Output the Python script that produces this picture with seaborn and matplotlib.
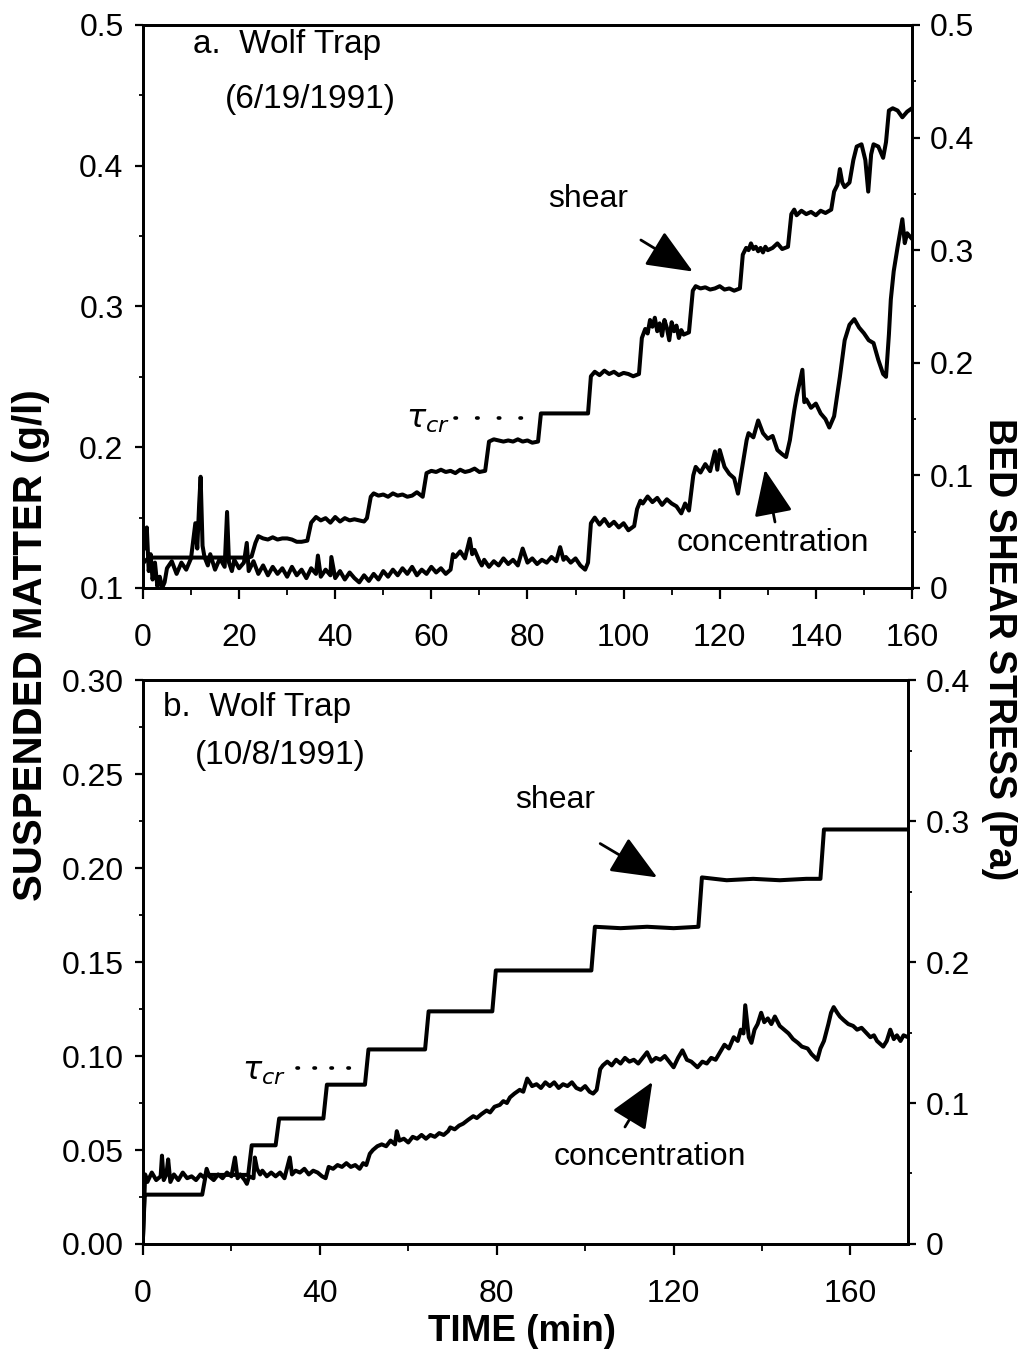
import matplotlib
matplotlib.use("Agg")
import matplotlib.pyplot as plt
from matplotlib.ticker import MultipleLocator
import seaborn as sns
import pandas as pd

# ---------------- data: (a) Wolf Trap 6/19/1991 ----------------
shear_a_t = [0, 1, 2, 4, 6, 8, 10, 12, 14, 16, 18, 20, 22, 22.6, 23.4, 24, 25, 26, 27, 28, 29, 30, 31, 32, 33, 34.2,
             35, 36, 37, 38, 39, 40, 41, 42, 43, 44, 45, 46, 46.6, 47.4, 48, 49, 50, 51, 52, 53, 54, 55, 56, 57, 58.2,
             59, 60, 61, 62, 63, 64, 65, 66, 67, 68, 69, 70, 71.2, 72, 73, 74, 75, 76, 77, 78, 79, 80, 81, 82.2,
             82.8, 85, 88, 92.6, 93.2, 94, 95, 96, 97, 98, 99, 100, 101, 102, 103.2, 103.8, 104.5, 105, 105.5,
             106, 106.5, 107, 107.5, 108, 108.5, 109, 109.5, 110, 110.5, 111, 111.5, 112, 112.5, 113.6, 114.4,
             115, 116, 117, 118, 119, 120, 121, 122, 123, 124.2, 124.8, 125.5, 126, 126.5, 127, 127.5, 128,
             128.5, 129, 129.5, 130, 131, 132, 133, 134.2, 134.9, 135.5, 136, 137, 138, 139, 140, 141, 142,
             143.2, 143.8, 144.5, 145, 145.5, 146, 147, 147.8, 148.5, 149.5, 150.3, 150.9, 151.5, 152, 153, 154,
             154.6, 155.2, 156, 157, 158, 159, 160]
shear_a = [0.022, 0.026, 0.027, 0.027, 0.027, 0.027, 0.027, 0.027, 0.027, 0.027, 0.027, 0.027, 0.027, 0.028,
           0.040, 0.046, 0.044, 0.043, 0.045, 0.043, 0.044, 0.044, 0.043, 0.041, 0.041, 0.042,
           0.058, 0.063, 0.060, 0.062, 0.058, 0.063, 0.059, 0.062, 0.060, 0.061, 0.060, 0.059, 0.062,
           0.081, 0.084, 0.082, 0.083, 0.081, 0.084, 0.082, 0.083, 0.081, 0.082, 0.085, 0.081,
           0.102, 0.104, 0.103, 0.105, 0.103, 0.104, 0.102, 0.105, 0.103, 0.104, 0.106, 0.103, 0.104,
           0.130, 0.132, 0.131, 0.130, 0.131, 0.130, 0.132, 0.130, 0.131, 0.129, 0.130,
           0.155, 0.155, 0.155, 0.155, 0.188, 0.192, 0.189, 0.193, 0.190, 0.192, 0.189, 0.191, 0.190, 0.188,
           0.190, 0.222, 0.230, 0.226, 0.238, 0.232, 0.240, 0.228, 0.235, 0.224, 0.238, 0.231, 0.220, 0.236,
           0.228, 0.233, 0.222, 0.229, 0.225, 0.227, 0.264, 0.268, 0.266, 0.267, 0.265, 0.266, 0.268, 0.265,
           0.266, 0.264, 0.266, 0.296, 0.302, 0.300, 0.306, 0.301, 0.303, 0.299, 0.302, 0.298, 0.303, 0.300,
           0.302, 0.306, 0.301, 0.303, 0.332, 0.336, 0.331, 0.335, 0.332, 0.334, 0.331, 0.335, 0.333, 0.336,
           0.352, 0.358, 0.372, 0.360, 0.356, 0.360, 0.380, 0.392, 0.394, 0.380, 0.352, 0.385, 0.394, 0.392,
           0.382, 0.396, 0.424, 0.426, 0.424, 0.418, 0.423, 0.426]

conc_a_t = [0, 0.4, 0.8, 1.2, 1.6, 2, 2.5, 3, 3.5, 4, 4.5, 5, 6, 7, 8, 9, 10, 10.9, 11.3, 11.7, 12, 12.4, 12.8,
            13.5, 14, 15, 16, 17, 17.5, 17.9, 18.5, 19, 20, 21, 21.6, 22, 23, 24, 25, 26, 27, 28, 29, 30, 31, 32,
            33, 34, 35, 36, 36.4, 37, 38, 39, 39.2, 40, 41, 42, 43, 44, 45, 46, 47, 48, 49, 50, 51, 52, 53, 54,
            55, 56, 57, 58, 59, 60, 61, 62, 63, 64, 64.5, 65, 66, 67, 68, 68.5, 69, 70, 70.5, 71, 72, 73, 74, 75,
            76, 77, 78, 79, 80, 81, 82, 83, 84, 85, 86, 86.8, 87.5, 88, 89, 90, 91, 92, 92.6, 93.2, 94, 95, 96,
            97, 98, 99, 100, 101, 102.2, 102.8, 103.5, 104, 105, 106, 107, 108, 109, 110, 111, 112, 112.8, 113.6,
            114.5, 115, 116, 117, 118, 119, 119.5, 120, 121, 122, 123, 123.8, 124.5, 125.6, 126, 127, 128, 129,
            130, 131, 132, 133, 133.8, 134.6, 135.5, 136, 137.2, 137.6, 138, 139, 140, 141, 142, 142.8, 143.8,
            145, 146, 147, 148, 149, 150, 151, 152, 153, 154, 154.6, 155.2, 155.6, 156.2, 157, 157.5, 158,
            158.5, 159, 160]
conc_a = [0.142, 0.128, 0.143, 0.112, 0.124, 0.106, 0.118, 0.101, 0.108, 0.100, 0.104, 0.114, 0.119, 0.110,
          0.118, 0.113, 0.121, 0.146, 0.128, 0.160, 0.179, 0.130, 0.122, 0.116, 0.124, 0.113, 0.121, 0.115,
          0.154, 0.118, 0.112, 0.120, 0.114, 0.118, 0.132, 0.112, 0.119, 0.110, 0.116, 0.109, 0.115, 0.110,
          0.114, 0.108, 0.115, 0.109, 0.113, 0.107, 0.114, 0.110, 0.123, 0.108, 0.113, 0.109, 0.122, 0.107,
          0.112, 0.106, 0.111, 0.107, 0.104, 0.109, 0.105, 0.110, 0.106, 0.112, 0.108, 0.113, 0.109, 0.114,
          0.110, 0.115, 0.109, 0.113, 0.110, 0.115, 0.111, 0.114, 0.110, 0.113, 0.124, 0.122, 0.126, 0.121,
          0.135, 0.124, 0.127, 0.119, 0.116, 0.120, 0.115, 0.119, 0.116, 0.121, 0.117, 0.120, 0.116, 0.128,
          0.118, 0.121, 0.117, 0.120, 0.118, 0.122, 0.119, 0.129, 0.120, 0.122, 0.118, 0.121, 0.116, 0.113,
          0.118, 0.146, 0.150, 0.145, 0.149, 0.144, 0.147, 0.143, 0.146, 0.141, 0.144, 0.156, 0.162, 0.160,
          0.165, 0.161, 0.164, 0.159, 0.163, 0.160, 0.158, 0.153, 0.160, 0.155, 0.180, 0.186, 0.182, 0.188,
          0.183, 0.197, 0.184, 0.198, 0.186, 0.181, 0.178, 0.167, 0.182, 0.205, 0.210, 0.207, 0.219, 0.210,
          0.206, 0.208, 0.198, 0.195, 0.193, 0.205, 0.226, 0.236, 0.255, 0.232, 0.234, 0.228, 0.231, 0.224,
          0.220, 0.214, 0.222, 0.250, 0.276, 0.287, 0.291, 0.285, 0.281, 0.276, 0.274, 0.262, 0.252, 0.250,
          0.280, 0.305, 0.325, 0.342, 0.352, 0.362, 0.345, 0.352, 0.348]

# ---------------- data: (b) Wolf Trap 10/8/1991 ----------------
shear_b_t = [0, 0.4, 1, 6, 13.4, 14.2, 19, 23.8, 24.6, 27, 30.0, 30.8, 36, 40.8, 41.6, 46, 50.2, 51.0, 57, 63.8,
             64.6, 72, 79.0, 79.8, 88, 95, 101.4, 102.2, 108, 114, 120, 125.6, 126.4, 132, 138, 144, 150, 153.2,
             154.0, 163, 173]
shear_b = [0.004, 0.035, 0.035, 0.035, 0.035, 0.049, 0.049, 0.049, 0.070, 0.070, 0.070, 0.089, 0.089, 0.089,
           0.113, 0.113, 0.113, 0.138, 0.138, 0.138, 0.165, 0.165, 0.165, 0.194, 0.194, 0.194, 0.194, 0.225,
           0.224, 0.225, 0.224, 0.225, 0.260, 0.258, 0.259, 0.258, 0.259, 0.259, 0.294, 0.294, 0.294]

conc_b_t = [0, 0.5, 1, 2, 3, 4, 4.3, 4.7, 5.3, 5.7, 6.2, 7, 8, 9, 10, 11, 12, 13, 14, 14.4, 15, 16, 17, 18, 19,
            20, 20.8, 21.4, 22, 23, 23.5, 24, 25, 25.3, 25.8, 26.5, 27, 28, 29, 30, 31, 32, 33.2, 33.7, 34.5,
            35.5, 36.5, 37.5, 38.5, 39.5, 40.5, 41.3, 42, 43, 44, 45, 46, 47, 48, 49, 49.8, 50.5, 51.3, 52, 53,
            54, 55, 56, 57, 57.4, 58, 59, 60, 61, 62, 63, 64, 65, 66, 67, 68, 69, 69.5, 70.5, 71.5, 72.4, 73.5,
            74.7, 75.5, 76.5, 77.7, 78.5, 79.5, 80.7, 81.5, 82.3, 83, 84, 85.2, 86, 86.9, 88, 89, 90, 91, 92, 93,
            94, 95, 96, 97, 98, 99, 100, 101, 101.8, 102.6, 103.4, 104, 105, 106, 107, 108, 109, 110, 111, 112,
            113, 114, 115, 116, 117, 118, 119, 120, 121, 122, 123, 124, 125.4, 126.5, 127.5, 128.5, 129.5,
            130.5, 131.5, 132.5, 133.6, 134.5, 135.2, 135.8, 136.2, 137, 137.6, 138.3, 139, 139.8, 140.5, 141.3,
            142.1, 142.9, 144, 145, 146, 147, 148.1, 149, 150.3, 151.2, 152.5, 153.2, 154, 155, 155.6, 156.2,
            157, 157.6, 158.5, 159.5, 160.6, 161.5, 162.5, 163.7, 164.5, 165.3, 166, 167.4, 168.2, 169, 169.8,
            170.5, 171.3, 172, 173]
conc_b = [0.003, 0.037, 0.033, 0.038, 0.034, 0.036, 0.047, 0.034, 0.037, 0.045, 0.033, 0.037, 0.034, 0.038,
          0.035, 0.036, 0.034, 0.037, 0.035, 0.040, 0.036, 0.034, 0.037, 0.035, 0.038, 0.036, 0.046, 0.035,
          0.037, 0.034, 0.032, 0.036, 0.035, 0.046, 0.040, 0.037, 0.039, 0.036, 0.038, 0.036, 0.038, 0.035,
          0.046, 0.037, 0.039, 0.038, 0.040, 0.037, 0.039, 0.038, 0.036, 0.035, 0.041, 0.040, 0.042, 0.041,
          0.043, 0.041, 0.042, 0.040, 0.043, 0.042, 0.048, 0.050, 0.052, 0.053, 0.052, 0.055, 0.053, 0.060,
          0.055, 0.056, 0.054, 0.057, 0.056, 0.058, 0.056, 0.058, 0.057, 0.059, 0.058, 0.060, 0.062, 0.061,
          0.063, 0.064, 0.066, 0.068, 0.067, 0.069, 0.071, 0.070, 0.073, 0.074, 0.076, 0.075, 0.078, 0.080,
          0.082, 0.081, 0.088, 0.084, 0.085, 0.083, 0.086, 0.084, 0.086, 0.083, 0.085, 0.084, 0.086, 0.083,
          0.082, 0.084, 0.081, 0.080, 0.082, 0.093, 0.095, 0.097, 0.095, 0.098, 0.096, 0.099, 0.097, 0.098,
          0.096, 0.099, 0.102, 0.097, 0.099, 0.098, 0.100, 0.097, 0.094, 0.099, 0.103, 0.098, 0.097, 0.094,
          0.097, 0.096, 0.099, 0.098, 0.102, 0.106, 0.104, 0.110, 0.108, 0.114, 0.112, 0.127, 0.110, 0.107,
          0.114, 0.117, 0.123, 0.118, 0.120, 0.117, 0.121, 0.116, 0.114, 0.112, 0.109, 0.107, 0.105, 0.104,
          0.101, 0.098, 0.104, 0.108, 0.117, 0.123, 0.126, 0.123, 0.121, 0.119, 0.117, 0.116, 0.114, 0.115,
          0.112, 0.110, 0.111, 0.108, 0.105, 0.108, 0.114, 0.109, 0.111, 0.108, 0.111, 0.110]

# ---------------- style ----------------
sns.set_theme(style="ticks")
plt.rcParams["font.family"] = ["Liberation Sans", "DejaVu Sans"]
plt.rcParams["mathtext.fontset"] = "dejavusans"
for key in ("text.color", "axes.labelcolor", "xtick.color", "ytick.color", "axes.edgecolor"):
    plt.rcParams[key] = "black"

FS = 23
LW = 2.9

fig = plt.figure(figsize=(10.24, 13.56), dpi=100)
fig.patch.set_facecolor("white")

ax_a = fig.add_axes([0.1396, 0.5664, 0.751, 0.4152])
ax_b = fig.add_axes([0.1396, 0.0826, 0.7471, 0.4159])
ax_a2 = ax_a.twinx()
ax_b2 = ax_b.twinx()


def draw(ax, t, y):
    df = pd.DataFrame({"t": t, "y": y})
    sns.lineplot(data=df, x="t", y="y", ax=ax, color="black", lw=LW, sort=False,
                 estimator=None, solid_joinstyle="round", solid_capstyle="round")
    ax.set_xlabel("")
    ax.set_ylabel("")


draw(ax_a, conc_a_t, conc_a)
draw(ax_a2, shear_a_t, shear_a)
draw(ax_b, conc_b_t, conc_b)
draw(ax_b2, shear_b_t, shear_b)

# ---------------- axes ----------------
ax_a.set_xlim(0, 160)
ax_a.set_ylim(0.1, 0.5)
ax_a2.set_ylim(0, 0.5)
ax_b.set_xlim(0, 173)
ax_b.set_ylim(0, 0.30)
ax_b2.set_ylim(0, 0.4)

ax_a.set_xticks([0, 20, 40, 60, 80, 100, 120, 140, 160])
ax_a.set_xticklabels(["0", "20", "40", "60", "80", "100", "120", "140", "160"])
ax_a.xaxis.set_minor_locator(MultipleLocator(10))
ax_a.set_yticks([0.1, 0.2, 0.3, 0.4, 0.5])
ax_a.set_yticklabels(["0.1", "0.2", "0.3", "0.4", "0.5"])
ax_a.yaxis.set_minor_locator(MultipleLocator(0.05))
ax_a2.set_yticks([0, 0.1, 0.2, 0.3, 0.4, 0.5])
ax_a2.set_yticklabels(["0", "0.1", "0.2", "0.3", "0.4", "0.5"])
ax_a2.yaxis.set_minor_locator(MultipleLocator(0.05))

ax_b.set_xticks([0, 40, 80, 120, 160])
ax_b.set_xticklabels(["0", "40", "80", "120", "160"])
ax_b.xaxis.set_minor_locator(MultipleLocator(20))
ax_b.set_yticks([0, 0.05, 0.10, 0.15, 0.20, 0.25, 0.30])
ax_b.set_yticklabels(["0.00", "0.05", "0.10", "0.15", "0.20", "0.25", "0.30"])
ax_b.yaxis.set_minor_locator(MultipleLocator(0.025))
ax_b2.set_yticks([0, 0.1, 0.2, 0.3, 0.4])
ax_b2.set_yticklabels(["0", "0.1", "0.2", "0.3", "0.4"])
ax_b2.yaxis.set_minor_locator(MultipleLocator(0.05))

for ax in (ax_a, ax_b, ax_a2, ax_b2):
    for s in ax.spines.values():
        s.set_visible(True)
        s.set_linewidth(2.0)
        s.set_color("black")
    ax.tick_params(which="major", direction="out", length=6, width=1.6, colors="black",
                   labelsize=FS, labelcolor="black")
    ax.tick_params(which="minor", direction="out", length=3, width=1.3, colors="black")
    ax.grid(False)

for ax in (ax_a, ax_b):
    ax.tick_params(axis="y", which="both", left=True, right=False, pad=8)
    ax.tick_params(axis="x", which="major", length=8, pad=17)
    ax.tick_params(axis="x", which="minor", length=5)
    ax.tick_params(axis="x", which="both", top=False, bottom=True)
for ax in (ax_a2, ax_b2):
    ax.tick_params(axis="y", which="both", right=True, left=False, pad=7)

# ---------------- annotations ----------------
arrow = dict(arrowstyle="-|>,head_length=1.3,head_width=0.55", color="black", lw=2.0,
             mutation_scale=22, shrinkA=0, shrinkB=0)

ax_a.text(0.065, 0.966, "a.  Wolf Trap", transform=ax_a.transAxes, fontsize=FS + 1,
          ha="left", va="center")
ax_a.text(0.107, 0.867, "(6/19/1991)", transform=ax_a.transAxes, fontsize=FS + 1,
          ha="left", va="center")
ax_a2.text(92.7, 0.345, "shear", fontsize=FS, ha="center", va="center")
ax_a2.annotate("", xy=(114.4, 0.281), xytext=(103.6, 0.309), arrowprops=arrow)
ax_a2.text(131.1, 0.040, "concentration", fontsize=FS, ha="center", va="center")
ax_a2.annotate("", xy=(129.4, 0.105), xytext=(131.5, 0.0586), arrowprops=arrow)
ax_a2.text(59.3, 0.149, r"$\tau_{cr}$", fontsize=FS, ha="center", va="center")
ax_a2.plot([65.0, 79.0], [0.151, 0.151], color="black", lw=2.6, ls=(0, (0.4, 5.6)),
           dash_capstyle="round")

ax_b.text(0.026, 0.952, "b.  Wolf Trap", transform=ax_b.transAxes, fontsize=FS + 1,
          ha="left", va="center")
ax_b.text(0.068, 0.867, "(10/8/1991)", transform=ax_b.transAxes, fontsize=FS + 1,
          ha="left", va="center")
ax_b2.text(93.2, 0.315, "shear", fontsize=FS, ha="center", va="center")
ax_b2.annotate("", xy=(116.3, 0.260), xytext=(103.4, 0.284), arrowprops=arrow)
ax_b2.text(114.7, 0.0617, "concentration", fontsize=FS, ha="center", va="center")
ax_b2.annotate("", xy=(115.2, 0.115), xytext=(109.0, 0.083), arrowprops=arrow)
ax_b2.text(27.3, 0.122, r"$\tau_{cr}$", fontsize=FS, ha="center", va="center")
ax_b2.plot([34.8, 46.8], [0.125, 0.125], color="black", lw=2.6, ls=(0, (0.4, 4.3)),
           dash_capstyle="round")

# ---------------- shared labels ----------------
fig.text(0.030, 0.524, "SUSPENDED MATTER (g/l)", rotation=90, ha="center", va="center",
         fontsize=29, fontweight="bold")
fig.text(0.976, 0.521, "BED SHEAR STRESS (Pa)", rotation=270, ha="center", va="center",
         fontsize=27, fontweight="bold")
fig.text(0.510, 0.018, "TIME (min)", ha="center", va="center", fontsize=26.5, fontweight="bold")

fig.savefig("out.png", dpi=100, facecolor="white")
